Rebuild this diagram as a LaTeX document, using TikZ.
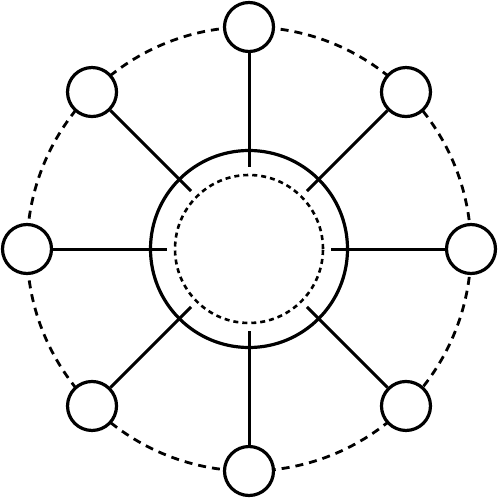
\documentclass[tikz,border=0pt]{standalone}
\usetikzlibrary{calc}
\begin{document}
\begin{tikzpicture}[x=1pt,y=-1pt,
  sat/.style={circle,draw=black,line width=3.2pt,fill=white,inner sep=0pt,minimum size=49pt},
  hub/.style={circle,draw=black,line width=3.2pt,inner sep=0pt,minimum size=197pt},
  innerdash/.style={circle,draw=black,line width=2.6pt,inner sep=0pt,minimum size=148pt,dash pattern=on 5pt off 4pt},
  orbit/.style={draw=black,line width=2.8pt,dash pattern=on 8pt off 6pt},
  spoke/.style={draw=black,line width=3pt}]
\useasboundingbox (0,0) rectangle (499,500);
\coordinate (c) at (249,249);
\draw[orbit] (c) circle[radius=222];
\node[hub] (hub) at (c) {};
\node[innerdash] (core) at (c) {};
\foreach \i/\a in {0/90,1/45,2/0,3/-45,4/-90,5/-135,6/180,7/135}{
  \node[sat] (n\i) at ($(c)+(\a:222)$) {};
  \coordinate (e\i) at ($(c)+(\a:82)$);
  \draw[spoke] (n\i) -- (e\i);
}
\end{tikzpicture}
\end{document}
